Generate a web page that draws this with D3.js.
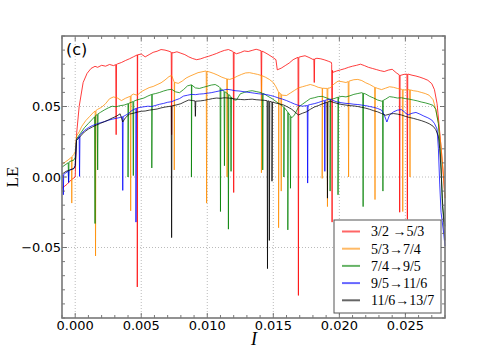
<!DOCTYPE html>
<html>
<head>
<meta charset="utf-8">
<script src="https://cdn.jsdelivr.net/npm/d3@7"></script>
<style>
  body { margin: 0; background: #fff; }
  svg { display: block; }
</style>
</head>
<body>
<div id="chart"></div>
<script>
// Lyapunov exponent vs current I, panel (c)
const seriesNames = ['3/2 \u21925/3', '5/3\u21927/4', '7/4\u21929/5', '9/5\u219211/6', '11/6\u219213/7'];
const seriesColors = ['#ff0000', '#ff8c00', '#008000', '#0000ff', '#000000'];

const xTicks = [0.000, 0.005, 0.010, 0.015, 0.020, 0.025];
const yTicks = [-0.05, 0.00, 0.05];

// baseline [I, LE]
const red = [[-0.001,-0.008],[-0.0006,-0.005],[-0.0003,-0.002],[0.0,0.0],[0.0001,0.030],[0.0003,0.050],[0.0006,0.067],[0.0009,0.0735],[0.0012,0.0770],[0.0015,0.0785],[0.0017,0.0778],[0.0020,0.0792],[0.0023,0.0786],[0.0026,0.0798],[0.0029,0.0790],[0.0032,0.0802],[0.0035,0.0812],[0.0038,0.0826],[0.0041,0.0838],[0.0044,0.0852],[0.0047,0.0866],[0.0050,0.0872],[0.0053,0.0852],[0.0056,0.0868],[0.0059,0.0884],[0.0062,0.0892],[0.0065,0.0904],[0.0068,0.0900],[0.0071,0.0892],[0.0074,0.0880],[0.0077,0.0888],[0.0080,0.0878],[0.0083,0.0868],[0.0086,0.0852],[0.0089,0.0840],[0.0092,0.0832],[0.0095,0.0838],[0.0098,0.0848],[0.0101,0.0856],[0.0104,0.0866],[0.0107,0.0876],[0.0110,0.0888],[0.0113,0.0898],[0.0116,0.0904],[0.0119,0.0892],[0.0122,0.0874],[0.0125,0.0882],[0.0128,0.0894],[0.0131,0.0890],[0.0134,0.0898],[0.0137,0.0906],[0.0140,0.0898],[0.0143,0.0886],[0.0146,0.0870],[0.0149,0.0852],[0.0152,0.0832],[0.0153,0.0760],[0.0156,0.0772],[0.0159,0.0790],[0.0162,0.0808],[0.0165,0.0832],[0.0168,0.0846],[0.0171,0.0854],[0.0174,0.0860],[0.0177,0.0848],[0.0180,0.0834],[0.0183,0.0842],[0.0186,0.0838],[0.0189,0.0830],[0.0192,0.0820],[0.0194,0.0812],[0.0195,0.0742],[0.0198,0.0752],[0.0201,0.0760],[0.0204,0.0768],[0.0207,0.0778],[0.0210,0.0786],[0.0213,0.0792],[0.0216,0.0800],[0.0219,0.0790],[0.0222,0.0778],[0.0225,0.0770],[0.0228,0.0762],[0.0231,0.0754],[0.0234,0.0748],[0.0237,0.0758],[0.0240,0.0764],[0.0243,0.0740],[0.0246,0.0720],[0.0249,0.0728],[0.0252,0.0730],[0.0255,0.0722],[0.0258,0.0716],[0.0261,0.0708],[0.0264,0.0698],[0.0267,0.0686],[0.0270,0.0662],[0.0272,0.0620],[0.0274,0.0520],[0.0276,0.0320],[0.0278,0.0100],[0.0280,-0.0150]];

const orange = [[-0.001,0.009],[-0.0007,0.011],[-0.0004,0.013],[-0.0001,0.016],[0.0,0.018],[0.0001,0.029],[0.0003,0.032],[0.0005,0.036],[0.0008,0.040],[0.0011,0.043],[0.0014,0.046],[0.0017,0.048],[0.0020,0.0495],[0.0023,0.052],[0.0026,0.0555],[0.0029,0.0568],[0.0032,0.0560],[0.0035,0.0542],[0.0038,0.0558],[0.0041,0.0570],[0.0044,0.0588],[0.0047,0.0580],[0.0050,0.0605],[0.0053,0.0620],[0.0056,0.0634],[0.0059,0.0642],[0.0062,0.0655],[0.0065,0.0668],[0.0068,0.0688],[0.0071,0.0712],[0.0073,0.0720],[0.0075,0.0672],[0.0078,0.0664],[0.0081,0.0680],[0.0084,0.0702],[0.0087,0.0716],[0.0090,0.0728],[0.0093,0.0740],[0.0096,0.0746],[0.0099,0.0752],[0.0102,0.0744],[0.0105,0.0734],[0.0108,0.0722],[0.0111,0.0708],[0.0114,0.0698],[0.0117,0.0692],[0.0120,0.0702],[0.0123,0.0716],[0.0126,0.0728],[0.0129,0.0738],[0.0132,0.0740],[0.0135,0.0734],[0.0138,0.0728],[0.0141,0.0720],[0.0144,0.0708],[0.0147,0.0692],[0.0150,0.0670],[0.0152,0.0640],[0.0154,0.0602],[0.0157,0.0580],[0.0160,0.0578],[0.0163,0.0596],[0.0166,0.0614],[0.0169,0.0632],[0.0172,0.0640],[0.0175,0.0648],[0.0178,0.0656],[0.0181,0.0648],[0.0184,0.0636],[0.0187,0.0630],[0.0190,0.0628],[0.0193,0.0632],[0.0196,0.0660],[0.0199,0.0680],[0.0202,0.0676],[0.0205,0.0670],[0.0208,0.0682],[0.0211,0.0690],[0.0214,0.0692],[0.0217,0.0684],[0.0220,0.0668],[0.0223,0.0656],[0.0226,0.0640],[0.0229,0.0628],[0.0232,0.0620],[0.0235,0.0630],[0.0238,0.0640],[0.0241,0.0636],[0.0244,0.0628],[0.0247,0.0622],[0.0250,0.0616],[0.0253,0.0620],[0.0256,0.0612],[0.0259,0.0608],[0.0262,0.0600],[0.0265,0.0592],[0.0268,0.0580],[0.0271,0.0548],[0.0273,0.0480],[0.0275,0.0380],[0.0277,0.0220],[0.0279,0.0000],[0.0280,-0.0150]];

const green = [[-0.001,0.007],[-0.0007,0.009],[-0.0004,0.011],[-0.0001,0.012],[0.0,0.014],[0.0001,0.027],[0.0004,0.031],[0.0007,0.035],[0.0010,0.038],[0.0013,0.041],[0.0016,0.044],[0.0019,0.0458],[0.0022,0.0475],[0.0025,0.0490],[0.0028,0.0502],[0.0031,0.0498],[0.0034,0.0506],[0.0037,0.0510],[0.0040,0.0520],[0.0043,0.0532],[0.0046,0.0544],[0.0049,0.0552],[0.0052,0.0560],[0.0055,0.0574],[0.0058,0.0586],[0.0061,0.0592],[0.0064,0.0600],[0.0067,0.0610],[0.0070,0.0618],[0.0073,0.0622],[0.0076,0.0604],[0.0079,0.0598],[0.0082,0.0620],[0.0085,0.0646],[0.0088,0.0654],[0.0091,0.0632],[0.0094,0.0628],[0.0097,0.0636],[0.0100,0.0644],[0.0103,0.0652],[0.0106,0.0656],[0.0109,0.0640],[0.0111,0.0620],[0.0114,0.0600],[0.0117,0.0580],[0.0120,0.0548],[0.0122,0.0545],[0.0125,0.0590],[0.0128,0.0600],[0.0131,0.0608],[0.0134,0.0612],[0.0137,0.0606],[0.0140,0.0600],[0.0143,0.0590],[0.0146,0.0572],[0.0149,0.0556],[0.0152,0.0536],[0.0155,0.0516],[0.0158,0.0496],[0.0161,0.0460],[0.0164,0.0420],[0.0166,0.0440],[0.0169,0.0494],[0.0172,0.0516],[0.0175,0.0536],[0.0178,0.0556],[0.0181,0.0562],[0.0184,0.0570],[0.0187,0.0572],[0.0190,0.0562],[0.0193,0.0550],[0.0196,0.0556],[0.0199,0.0566],[0.0202,0.0572],[0.0205,0.0568],[0.0208,0.0576],[0.0211,0.0586],[0.0214,0.0592],[0.0217,0.0598],[0.0220,0.0588],[0.0223,0.0572],[0.0226,0.0560],[0.0229,0.0546],[0.0232,0.0538],[0.0235,0.0552],[0.0238,0.0570],[0.0241,0.0566],[0.0244,0.0560],[0.0247,0.0562],[0.0250,0.0556],[0.0253,0.0552],[0.0256,0.0546],[0.0259,0.0540],[0.0262,0.0532],[0.0265,0.0526],[0.0268,0.0518],[0.0271,0.0508],[0.0273,0.0480],[0.0275,0.0380],[0.0277,0.0100],[0.0278,-0.0200],[0.0280,-0.0350]];

const blue = [[-0.001,0.001],[-0.0007,0.003],[-0.0004,0.005],[-0.0001,0.006],[0.0,0.008],[0.0001,0.026],[0.0004,0.030],[0.0007,0.033],[0.0010,0.035],[0.0013,0.0365],[0.0016,0.0375],[0.0019,0.0385],[0.0022,0.0392],[0.0025,0.0402],[0.0028,0.0410],[0.0031,0.0416],[0.0034,0.0422],[0.0037,0.0432],[0.0040,0.0448],[0.0043,0.0472],[0.0046,0.0486],[0.0049,0.0494],[0.0052,0.0498],[0.0055,0.0502],[0.0058,0.0500],[0.0061,0.0508],[0.0064,0.0516],[0.0067,0.0522],[0.0070,0.0530],[0.0073,0.0534],[0.0076,0.0546],[0.0079,0.0556],[0.0082,0.0574],[0.0085,0.0580],[0.0088,0.0586],[0.0091,0.0584],[0.0094,0.0588],[0.0097,0.0590],[0.0100,0.0594],[0.0103,0.0598],[0.0106,0.0604],[0.0109,0.0610],[0.0112,0.0616],[0.0115,0.0622],[0.0118,0.0618],[0.0121,0.0612],[0.0124,0.0610],[0.0127,0.0606],[0.0130,0.0602],[0.0133,0.0598],[0.0136,0.0594],[0.0139,0.0590],[0.0142,0.0588],[0.0145,0.0584],[0.0148,0.0578],[0.0151,0.0570],[0.0154,0.0560],[0.0157,0.0552],[0.0160,0.0542],[0.0163,0.0530],[0.0166,0.0518],[0.0169,0.0508],[0.0172,0.0502],[0.0175,0.0506],[0.0178,0.0514],[0.0181,0.0520],[0.0184,0.0528],[0.0187,0.0538],[0.0190,0.0546],[0.0193,0.0552],[0.0196,0.0540],[0.0199,0.0530],[0.0202,0.0526],[0.0205,0.0522],[0.0208,0.0520],[0.0211,0.0516],[0.0214,0.0514],[0.0217,0.0510],[0.0220,0.0506],[0.0223,0.0500],[0.0226,0.0494],[0.0229,0.0486],[0.0232,0.0474],[0.0234,0.0440],[0.0236,0.0390],[0.0238,0.0440],[0.0241,0.0462],[0.0244,0.0474],[0.0247,0.0478],[0.0250,0.0456],[0.0252,0.0440],[0.0255,0.0452],[0.0258,0.0458],[0.0261,0.0446],[0.0264,0.0432],[0.0267,0.0420],[0.0270,0.0404],[0.0272,0.0380],[0.0274,0.0340],[0.0275,0.0200],[0.0276,-0.0050],[0.0277,-0.0250],[0.0279,-0.0400],[0.0280,-0.0490]];

const black = [[-0.001,0.002],[-0.0007,0.004],[-0.0004,0.005],[-0.0001,0.006],[0.0,0.008],[0.0001,0.026],[0.0004,0.029],[0.0007,0.032],[0.0010,0.034],[0.0013,0.0355],[0.0016,0.0368],[0.0019,0.0380],[0.0022,0.0392],[0.0025,0.0404],[0.0028,0.0418],[0.0031,0.0430],[0.0034,0.0448],[0.0036,0.0390],[0.0038,0.0420],[0.0041,0.0446],[0.0044,0.0452],[0.0047,0.0460],[0.0050,0.0466],[0.0053,0.0468],[0.0056,0.0474],[0.0059,0.0478],[0.0062,0.0482],[0.0065,0.0490],[0.0068,0.0496],[0.0071,0.0500],[0.0074,0.0506],[0.0077,0.0512],[0.0080,0.0520],[0.0083,0.0534],[0.0086,0.0546],[0.0089,0.0542],[0.0092,0.0538],[0.0095,0.0540],[0.0098,0.0544],[0.0101,0.0550],[0.0104,0.0556],[0.0107,0.0560],[0.0110,0.0558],[0.0113,0.0562],[0.0116,0.0560],[0.0119,0.0556],[0.0122,0.0552],[0.0125,0.0550],[0.0128,0.0548],[0.0131,0.0550],[0.0134,0.0552],[0.0137,0.0548],[0.0140,0.0546],[0.0143,0.0544],[0.0146,0.0540],[0.0149,0.0532],[0.0152,0.0524],[0.0155,0.0518],[0.0158,0.0510],[0.0161,0.0496],[0.0164,0.0480],[0.0167,0.0456],[0.0169,0.0440],[0.0172,0.0452],[0.0175,0.0462],[0.0178,0.0480],[0.0181,0.0496],[0.0184,0.0506],[0.0187,0.0518],[0.0190,0.0528],[0.0193,0.0538],[0.0196,0.0528],[0.0199,0.0520],[0.0202,0.0514],[0.0205,0.0510],[0.0208,0.0506],[0.0211,0.0504],[0.0214,0.0500],[0.0217,0.0494],[0.0220,0.0488],[0.0223,0.0480],[0.0226,0.0470],[0.0229,0.0462],[0.0232,0.0450],[0.0235,0.0438],[0.0238,0.0446],[0.0241,0.0450],[0.0244,0.0446],[0.0247,0.0440],[0.0250,0.0430],[0.0253,0.0422],[0.0256,0.0416],[0.0259,0.0408],[0.0262,0.0400],[0.0265,0.0390],[0.0268,0.0378],[0.0271,0.0360],[0.0273,0.0336],[0.0275,0.0290],[0.0276,0.0200],[0.0277,0.0050],[0.0278,-0.0150],[0.0279,-0.0320],[0.0280,-0.0450]];

// downward spikes [I, LE]
const redSpikes = [[0.0031,0.030],[0.0047,-0.078],[0.0073,0.030],[0.0120,-0.011],[0.0141,0.055],[0.0169,-0.084],[0.0181,0.067],[0.01945,-0.032],[0.02457,-0.025],[0.02515,-0.030]];
const orangeSpikes = [[-0.00026,-0.0185],[0.00154,-0.056],[0.0042,-0.024],[0.0075,0.005],[0.00995,-0.0185],[0.0115,0.000],[0.0141,0.003],[0.0154,-0.036],[0.0156,-0.010],[0.0187,-0.001],[0.0191,-0.021],[0.0207,0.000],[0.0227,-0.016],[0.0248,-0.0245],[0.02535,0.000]];
const greenSpikes = [[-0.0005,-0.0035],[0.00150,-0.033],[0.0017,0.005],[0.0040,0.000],[0.0044,0.001],[0.0058,0.0064],[0.0088,0.000],[0.0110,-0.0245],[0.0113,0.008],[0.0116,-0.037],[0.0118,0.004],[0.0142,0.005],[0.0158,0.000],[0.0161,-0.0375],[0.0163,-0.008],[0.0193,-0.010],[0.0199,-0.0126],[0.0218,-0.021],[0.0233,-0.010]];
const blueSpikes = [[-0.0009,-0.0126],[-0.0005,-0.004],[0.00033,0.0004],[0.0036,-0.0095],[0.0046,-0.032],[0.0176,-0.0043],[0.0189,0.004]];
const blackSpikes = [[0.0073,-0.043],[0.0091,0.043],[0.01456,-0.065],[0.0147,-0.045],[0.0149,-0.003],[0.0191,-0.015]];

const baselines = [red, orange, green, blue, black];
const spikes = [redSpikes, orangeSpikes, greenSpikes, blueSpikes, blackSpikes];

const width = 495, height = 354;
const margin = { top: 36, right: 50, bottom: 36, left: 62 };

const x = d3.scaleLinear().domain([-0.001, 0.028]).range([margin.left, width - margin.right]);
const y = d3.scaleLinear().domain([-0.1, 0.1]).range([height - margin.bottom, margin.top]);

const svg = d3.select('#chart').append('svg')
  .attr('width', width)
  .attr('height', height);

// grid
svg.append('g').selectAll('line.gx')
  .data(xTicks).join('line')
  .attr('x1', d => x(d)).attr('x2', d => x(d))
  .attr('y1', y(-0.1)).attr('y2', y(0.1))
  .attr('stroke', '#aaa').attr('stroke-width', 0.8)
  .attr('stroke-dasharray', '1,2');

svg.append('g').selectAll('line.gy')
  .data(yTicks).join('line')
  .attr('x1', x(-0.001)).attr('x2', x(0.028))
  .attr('y1', d => y(d)).attr('y2', d => y(d))
  .attr('stroke', '#aaa').attr('stroke-width', 0.8)
  .attr('stroke-dasharray', '1,2');

// merge spikes into each baseline as narrow dips
function withSpikes(base, sp) {
  const baseAt = d3.scaleLinear().domain(base.map(d => d[0])).range(base.map(d => d[1]));
  const w = 0.00003;
  const pts = base.slice();
  sp.forEach(s => {
    pts.push([s[0] - w, baseAt(s[0] - w)], [s[0], s[1]], [s[0] + w, baseAt(s[0] + w)]);
  });
  return pts.sort((a, b) => a[0] - b[0]);
}

const line = d3.line().x(d => x(d[0])).y(d => y(d[1]));

const plot = svg.append('g');
baselines.forEach((base, i) => {
  plot.append('path')
    .datum(withSpikes(base, spikes[i]))
    .attr('fill', 'none')
    .attr('stroke', seriesColors[i])
    .attr('stroke-opacity', 0.85)
    .attr('stroke-width', 0.9)
    .attr('stroke-linejoin', 'round')
    .attr('d', line);
});

// ticks, inward on all four sides
const xMinor = d3.range(-0.001, 0.0281, 0.001);
const yMinor = d3.range(-0.1, 0.1001, 0.01);
const tickColor = '#555';
const tickG = svg.append('g').attr('stroke', tickColor).attr('stroke-width', 0.8);
xMinor.forEach(v => {
  const len = xTicks.some(t => Math.abs(t - v) < 1e-9) ? 5 : 3;
  tickG.append('line').attr('x1', x(v)).attr('x2', x(v)).attr('y1', y(-0.1)).attr('y2', y(-0.1) - len);
  tickG.append('line').attr('x1', x(v)).attr('x2', x(v)).attr('y1', y(0.1)).attr('y2', y(0.1) + len);
});
yMinor.forEach(v => {
  const len = yTicks.some(t => Math.abs(t - v) < 1e-9) ? 5 : 3;
  tickG.append('line').attr('x1', x(-0.001)).attr('x2', x(-0.001) + len).attr('y1', y(v)).attr('y2', y(v));
  tickG.append('line').attr('x1', x(0.028)).attr('x2', x(0.028) - len).attr('y1', y(v)).attr('y2', y(v));
});

// frame
svg.append('rect')
  .attr('x', x(-0.001)).attr('y', y(0.1))
  .attr('width', x(0.028) - x(-0.001))
  .attr('height', y(-0.1) - y(0.1))
  .attr('fill', 'none')
  .attr('stroke', '#777')
  .attr('stroke-width', 1.6);

// tick labels
const fmt = d3.format('.3f');
svg.append('g').selectAll('text')
  .data(xTicks).join('text')
  .attr('x', d => x(d)).attr('y', 330)
  .attr('text-anchor', 'middle')
  .style('font-family', 'DejaVu Sans')
  .style('font-size', '13px')
  .text(d => fmt(d));

svg.append('g').selectAll('text')
  .data(yTicks).join('text')
  .attr('x', 61).attr('y', d => y(d))
  .attr('dy', '0.36em')
  .attr('text-anchor', 'end')
  .style('font-family', 'DejaVu Sans')
  .style('font-size', '13px')
  .text(d => d3.format('.2f')(d).replace('-', '\u2212'));

// axis labels
svg.append('text')
  .attr('transform', `translate(18,${y(0)}) rotate(-90)`)
  .attr('text-anchor', 'middle')
  .style('font-family', 'Liberation Serif')
  .style('font-size', '17px')
  .text('LE');

svg.append('text')
  .attr('x', 254).attr('y', 345)
  .attr('text-anchor', 'middle')
  .style('font-family', 'Liberation Serif')
  .style('font-style', 'italic')
  .style('font-size', '18px')
  .text('I');

svg.append('text')
  .attr('x', 66).attr('y', 55)
  .style('font-family', 'DejaVu Sans')
  .style('font-size', '16px')
  .text('(c)');

// legend
const legend = svg.append('g');
legend.append('rect')
  .attr('x', 334).attr('y', 220)
  .attr('width', 107).attr('height', 93)
  .attr('fill', '#fff')
  .attr('stroke', '#555')
  .attr('stroke-width', 1);

seriesNames.forEach((name, i) => {
  const ly = 231.5 + i * 17.2;
  legend.append('line')
    .attr('x1', 342).attr('x2', 360)
    .attr('y1', ly).attr('y2', ly)
    .attr('stroke', seriesColors[i])
    .attr('stroke-opacity', 0.6)
    .attr('stroke-width', 2);
  legend.append('text')
    .attr('x', 371).attr('y', ly)
    .attr('dy', '0.35em')
    .style('font-family', 'Liberation Serif')
    .style('font-size', '14px')
    .text(name);
});
</script>
</body>
</html>
